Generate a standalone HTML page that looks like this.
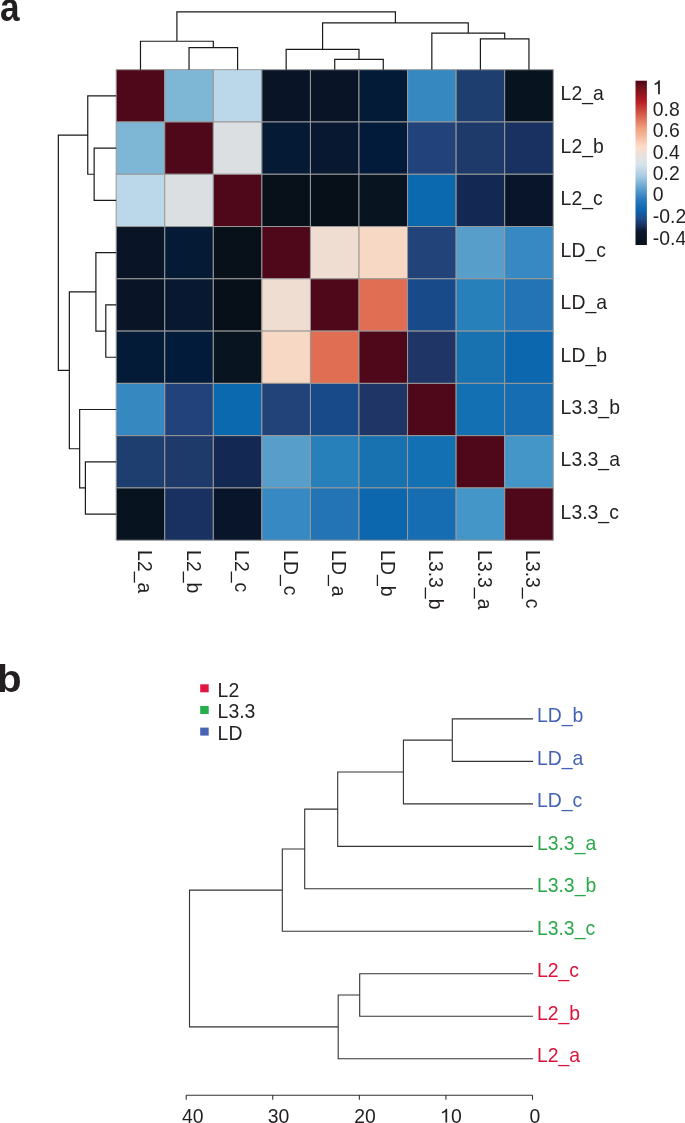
<!DOCTYPE html>
<html><head><meta charset="utf-8"><style>
html,body{margin:0;padding:0;background:#fff;}
body{width:685px;height:1123px;overflow:hidden;position:relative;}
svg{position:absolute;left:0;top:0;display:block;will-change:transform;}
text{font-family:"Liberation Sans",sans-serif;}
</style></head><body>
<svg width="685" height="1123" viewBox="0 0 685 1123">
<defs><linearGradient id="cb" x1="0" y1="0" x2="0" y2="1">
<stop offset="0" stop-color="#4A0418"/>
<stop offset="0.035" stop-color="#6E1019"/>
<stop offset="0.125" stop-color="#B51C24"/>
<stop offset="0.21" stop-color="#D5604C"/>
<stop offset="0.29" stop-color="#F0A07E"/>
<stop offset="0.40" stop-color="#FDDBC7"/>
<stop offset="0.465" stop-color="#E6E2E0"/>
<stop offset="0.515" stop-color="#D3E2EC"/>
<stop offset="0.58" stop-color="#A8CCE2"/>
<stop offset="0.66" stop-color="#5A9FCC"/>
<stop offset="0.72" stop-color="#2B7BBE"/>
<stop offset="0.79" stop-color="#0B64AE"/>
<stop offset="0.84" stop-color="#1F4A8A"/>
<stop offset="0.875" stop-color="#1C3468"/>
<stop offset="0.912" stop-color="#0C1A33"/>
<stop offset="0.945" stop-color="#0A1424"/>
<stop offset="1" stop-color="#0A121E"/>
</linearGradient></defs>

<text transform="translate(0.07,21.2) scale(0.88,1)" font-size="40" font-weight="bold" fill="#231f20">a</text>
<text transform="translate(-3.19,691.8) scale(1.06,1)" font-size="38.5" font-weight="bold" fill="#231f20">b</text>
<g stroke="#999" stroke-width="1">
<rect x="116.20" y="69.70" width="48.56" height="52.28" fill="#4F0819"/>
<rect x="164.76" y="69.70" width="48.56" height="52.28" fill="#7EB6D6"/>
<rect x="213.32" y="69.70" width="48.56" height="52.28" fill="#BBD8EA"/>
<rect x="261.88" y="69.70" width="48.56" height="52.28" fill="#091526"/>
<rect x="310.44" y="69.70" width="48.56" height="52.28" fill="#091526"/>
<rect x="359.00" y="69.70" width="48.56" height="52.28" fill="#041B37"/>
<rect x="407.56" y="69.70" width="48.56" height="52.28" fill="#3689C0"/>
<rect x="456.12" y="69.70" width="48.56" height="52.28" fill="#1F3E70"/>
<rect x="504.68" y="69.70" width="48.56" height="52.28" fill="#081320"/>
<rect x="116.20" y="121.98" width="48.56" height="52.28" fill="#7EB6D6"/>
<rect x="164.76" y="121.98" width="48.56" height="52.28" fill="#4F0819"/>
<rect x="213.32" y="121.98" width="48.56" height="52.28" fill="#DBDFE2"/>
<rect x="261.88" y="121.98" width="48.56" height="52.28" fill="#051A35"/>
<rect x="310.44" y="121.98" width="48.56" height="52.28" fill="#081830"/>
<rect x="359.00" y="121.98" width="48.56" height="52.28" fill="#031B3A"/>
<rect x="407.56" y="121.98" width="48.56" height="52.28" fill="#21427A"/>
<rect x="456.12" y="121.98" width="48.56" height="52.28" fill="#1E3A6A"/>
<rect x="504.68" y="121.98" width="48.56" height="52.28" fill="#183160"/>
<rect x="116.20" y="174.26" width="48.56" height="52.28" fill="#BBD8EA"/>
<rect x="164.76" y="174.26" width="48.56" height="52.28" fill="#DBDFE2"/>
<rect x="213.32" y="174.26" width="48.56" height="52.28" fill="#4F0819"/>
<rect x="261.88" y="174.26" width="48.56" height="52.28" fill="#08101A"/>
<rect x="310.44" y="174.26" width="48.56" height="52.28" fill="#070F18"/>
<rect x="359.00" y="174.26" width="48.56" height="52.28" fill="#08141F"/>
<rect x="407.56" y="174.26" width="48.56" height="52.28" fill="#0B69AF"/>
<rect x="456.12" y="174.26" width="48.56" height="52.28" fill="#132853"/>
<rect x="504.68" y="174.26" width="48.56" height="52.28" fill="#09152A"/>
<rect x="116.20" y="226.54" width="48.56" height="52.28" fill="#091526"/>
<rect x="164.76" y="226.54" width="48.56" height="52.28" fill="#051A35"/>
<rect x="213.32" y="226.54" width="48.56" height="52.28" fill="#08101A"/>
<rect x="261.88" y="226.54" width="48.56" height="52.28" fill="#4F0819"/>
<rect x="310.44" y="226.54" width="48.56" height="52.28" fill="#F0DDD2"/>
<rect x="359.00" y="226.54" width="48.56" height="52.28" fill="#F6D8C5"/>
<rect x="407.56" y="226.54" width="48.56" height="52.28" fill="#22427A"/>
<rect x="456.12" y="226.54" width="48.56" height="52.28" fill="#579FCA"/>
<rect x="504.68" y="226.54" width="48.56" height="52.28" fill="#3689C2"/>
<rect x="116.20" y="278.82" width="48.56" height="52.28" fill="#091526"/>
<rect x="164.76" y="278.82" width="48.56" height="52.28" fill="#081830"/>
<rect x="213.32" y="278.82" width="48.56" height="52.28" fill="#070F18"/>
<rect x="261.88" y="278.82" width="48.56" height="52.28" fill="#F0DDD2"/>
<rect x="310.44" y="278.82" width="48.56" height="52.28" fill="#4F0819"/>
<rect x="359.00" y="278.82" width="48.56" height="52.28" fill="#E06E52"/>
<rect x="407.56" y="278.82" width="48.56" height="52.28" fill="#184A8A"/>
<rect x="456.12" y="278.82" width="48.56" height="52.28" fill="#2880BB"/>
<rect x="504.68" y="278.82" width="48.56" height="52.28" fill="#2374B5"/>
<rect x="116.20" y="331.10" width="48.56" height="52.28" fill="#041B37"/>
<rect x="164.76" y="331.10" width="48.56" height="52.28" fill="#031B3A"/>
<rect x="213.32" y="331.10" width="48.56" height="52.28" fill="#08141F"/>
<rect x="261.88" y="331.10" width="48.56" height="52.28" fill="#F6D8C5"/>
<rect x="310.44" y="331.10" width="48.56" height="52.28" fill="#E06E52"/>
<rect x="359.00" y="331.10" width="48.56" height="52.28" fill="#4F0819"/>
<rect x="407.56" y="331.10" width="48.56" height="52.28" fill="#1F3566"/>
<rect x="456.12" y="331.10" width="48.56" height="52.28" fill="#1972B0"/>
<rect x="504.68" y="331.10" width="48.56" height="52.28" fill="#0C67AE"/>
<rect x="116.20" y="383.38" width="48.56" height="52.28" fill="#3689C0"/>
<rect x="164.76" y="383.38" width="48.56" height="52.28" fill="#21427A"/>
<rect x="213.32" y="383.38" width="48.56" height="52.28" fill="#0B69AF"/>
<rect x="261.88" y="383.38" width="48.56" height="52.28" fill="#22427A"/>
<rect x="310.44" y="383.38" width="48.56" height="52.28" fill="#184A8A"/>
<rect x="359.00" y="383.38" width="48.56" height="52.28" fill="#1F3566"/>
<rect x="407.56" y="383.38" width="48.56" height="52.28" fill="#4F0819"/>
<rect x="456.12" y="383.38" width="48.56" height="52.28" fill="#1370B2"/>
<rect x="504.68" y="383.38" width="48.56" height="52.28" fill="#176DB2"/>
<rect x="116.20" y="435.66" width="48.56" height="52.28" fill="#1F3E70"/>
<rect x="164.76" y="435.66" width="48.56" height="52.28" fill="#1E3A6A"/>
<rect x="213.32" y="435.66" width="48.56" height="52.28" fill="#132853"/>
<rect x="261.88" y="435.66" width="48.56" height="52.28" fill="#579FCA"/>
<rect x="310.44" y="435.66" width="48.56" height="52.28" fill="#2880BB"/>
<rect x="359.00" y="435.66" width="48.56" height="52.28" fill="#1972B0"/>
<rect x="407.56" y="435.66" width="48.56" height="52.28" fill="#1370B2"/>
<rect x="456.12" y="435.66" width="48.56" height="52.28" fill="#4F0819"/>
<rect x="504.68" y="435.66" width="48.56" height="52.28" fill="#4596C8"/>
<rect x="116.20" y="487.94" width="48.56" height="52.28" fill="#081320"/>
<rect x="164.76" y="487.94" width="48.56" height="52.28" fill="#183160"/>
<rect x="213.32" y="487.94" width="48.56" height="52.28" fill="#09152A"/>
<rect x="261.88" y="487.94" width="48.56" height="52.28" fill="#3689C2"/>
<rect x="310.44" y="487.94" width="48.56" height="52.28" fill="#2374B5"/>
<rect x="359.00" y="487.94" width="48.56" height="52.28" fill="#0C67AE"/>
<rect x="407.56" y="487.94" width="48.56" height="52.28" fill="#176DB2"/>
<rect x="456.12" y="487.94" width="48.56" height="52.28" fill="#4596C8"/>
<rect x="504.68" y="487.94" width="48.56" height="52.28" fill="#4F0819"/>
</g>
<path d="M189.04 69.70V47.65H237.60V69.70 M140.48 69.70V41.25H213.32V47.65 M334.72 69.70V59.30H383.28V69.70 M286.16 69.70V49.40H359.00V59.30 M480.40 69.70V38.90H528.96V69.70 M431.84 69.70V33.15H504.68V38.90 M322.58 49.40V22.85H468.26V33.15 M176.90 41.25V11.85H395.42V22.85" fill="none" stroke="#1a1a1a" stroke-width="1.2"/>
<path d="M116.20 148.12H94.15V200.40H116.20 M116.20 95.84H87.75V174.26H94.15 M116.20 304.96H105.80V357.24H116.20 M116.20 252.68H95.90V331.10H105.80 M116.20 461.80H85.40V514.08H116.20 M116.20 409.52H79.65V487.94H85.40 M95.90 291.89H69.35V448.73H79.65 M87.75 135.05H58.35V370.31H69.35" fill="none" stroke="#1a1a1a" stroke-width="1.2"/>
<text transform="translate(560.60,100.34) scale(1,1.046)" font-size="19.4" fill="#231f20">L2_a</text>
<text transform="translate(560.60,152.62) scale(1,1.046)" font-size="19.4" fill="#231f20">L2_b</text>
<text transform="translate(560.60,204.90) scale(1,1.046)" font-size="19.4" fill="#231f20">L2_c</text>
<text transform="translate(560.60,257.18) scale(1,1.046)" font-size="19.4" fill="#231f20">LD_c</text>
<text transform="translate(560.60,309.46) scale(1,1.046)" font-size="19.4" fill="#231f20">LD_a</text>
<text transform="translate(560.60,361.74) scale(1,1.046)" font-size="19.4" fill="#231f20">LD_b</text>
<text transform="translate(560.60,414.02) scale(1,1.046)" font-size="19.4" fill="#231f20">L3.3_b</text>
<text transform="translate(560.60,466.30) scale(1,1.046)" font-size="19.4" fill="#231f20">L3.3_a</text>
<text transform="translate(560.60,518.58) scale(1,1.046)" font-size="19.4" fill="#231f20">L3.3_c</text>
<text transform="translate(137.98,550.10) rotate(90) scale(1,1.046)" font-size="19.4" fill="#231f20">L2_a</text>
<text transform="translate(186.54,550.10) rotate(90) scale(1,1.046)" font-size="19.4" fill="#231f20">L2_b</text>
<text transform="translate(235.10,550.10) rotate(90) scale(1,1.046)" font-size="19.4" fill="#231f20">L2_c</text>
<text transform="translate(283.66,550.10) rotate(90) scale(1,1.046)" font-size="19.4" fill="#231f20">LD_c</text>
<text transform="translate(332.22,550.10) rotate(90) scale(1,1.046)" font-size="19.4" fill="#231f20">LD_a</text>
<text transform="translate(380.78,550.10) rotate(90) scale(1,1.046)" font-size="19.4" fill="#231f20">LD_b</text>
<text transform="translate(429.34,550.10) rotate(90) scale(1,1.046)" font-size="19.4" fill="#231f20">L3.3_b</text>
<text transform="translate(477.90,550.10) rotate(90) scale(1,1.046)" font-size="19.4" fill="#231f20">L3.3_a</text>
<text transform="translate(526.46,550.10) rotate(90) scale(1,1.046)" font-size="19.4" fill="#231f20">L3.3_c</text>
<rect x="635.5" y="80.7" width="11.4" height="164.3" fill="url(#cb)"/>
<path transform="translate(652.80,94.20) scale(0.00947,-0.00991)" d="M560 0H745V1409H620C580 1320 500 1230 400 1170C340 1135 270 1110 200 1100V930C330 960 460 1020 560 1090Z" fill="#231f20"/>
<text transform="translate(652.80,115.90) scale(1,1.046)" font-size="19.4" fill="#231f20">0.8</text>
<text transform="translate(652.80,137.20) scale(1,1.046)" font-size="19.4" fill="#231f20">0.6</text>
<text transform="translate(652.80,159.10) scale(1,1.046)" font-size="19.4" fill="#231f20">0.4</text>
<text transform="translate(652.80,180.20) scale(1,1.046)" font-size="19.4" fill="#231f20">0.2</text>
<text transform="translate(652.80,201.20) scale(1,1.046)" font-size="19.4" fill="#231f20">0</text>
<text transform="translate(652.80,223.30) scale(1,1.046)" font-size="19.4" fill="#231f20">-0.2</text>
<text transform="translate(652.80,245.20) scale(1,1.046)" font-size="19.4" fill="#231f20">-0.4</text>
<rect x="200.2" y="684.3" width="8.5" height="8" fill="#DE1640"/>
<text transform="translate(217.60,696.60) scale(1,1.046)" font-size="19.4" fill="#231f20">L2</text>
<rect x="200.2" y="706.0" width="8.5" height="8" fill="#25AE4B"/>
<text transform="translate(217.60,717.80) scale(1,1.046)" font-size="19.4" fill="#231f20">L3.3</text>
<rect x="200.2" y="727.6" width="8.5" height="8" fill="#4863B2"/>
<text transform="translate(217.60,740.00) scale(1,1.046)" font-size="19.4" fill="#231f20">LD</text>
<path d="M533.00 718.90H452.30V761.38H533.00 M452.30 740.14H403.40V803.86H533.00 M403.40 772.00H337.70V846.34H533.00 M337.70 809.17H304.70V888.82H533.00 M304.70 848.99H282.30V931.30H533.00 M533.00 973.78H359.70V1016.26H533.00 M359.70 995.02H338.20V1058.74H533.00 M282.30 890.15H189.50V1026.88H338.20" fill="none" stroke="#333" stroke-width="1.1"/>
<text transform="translate(536.90,722.35) scale(1,1.046)" font-size="19.4" fill="#4563B5">LD_b</text>
<text transform="translate(536.90,764.83) scale(1,1.046)" font-size="19.4" fill="#4563B5">LD_a</text>
<text transform="translate(536.90,807.31) scale(1,1.046)" font-size="19.4" fill="#4563B5">LD_c</text>
<text transform="translate(536.90,849.79) scale(1,1.046)" font-size="19.4" fill="#2AA84A">L3.3_a</text>
<text transform="translate(536.90,892.27) scale(1,1.046)" font-size="19.4" fill="#2AA84A">L3.3_b</text>
<text transform="translate(536.90,934.75) scale(1,1.046)" font-size="19.4" fill="#2AA84A">L3.3_c</text>
<text transform="translate(536.90,977.23) scale(1,1.046)" font-size="19.4" fill="#DC143C">L2_c</text>
<text transform="translate(536.90,1019.71) scale(1,1.046)" font-size="19.4" fill="#DC143C">L2_b</text>
<text transform="translate(536.90,1062.19) scale(1,1.046)" font-size="19.4" fill="#DC143C">L2_a</text>
<path d="M186.20 1095.3H532.50M186.20 1095.3V1099.8M272.77 1095.3V1099.8M359.35 1095.3V1099.8M445.93 1095.3V1099.8M532.50 1095.3V1099.8" fill="none" stroke="#333" stroke-width="1.1"/>
<text transform="translate(192.70,1122.60) scale(1,1.046)" font-size="19.4" fill="#231f20" text-anchor="middle">40</text>
<text transform="translate(278.50,1122.60) scale(1,1.046)" font-size="19.4" fill="#231f20" text-anchor="middle">30</text>
<text transform="translate(364.95,1122.60) scale(1,1.046)" font-size="19.4" fill="#231f20" text-anchor="middle">20</text>
<text transform="translate(534.90,1122.60) scale(1,1.046)" font-size="19.4" fill="#231f20" text-anchor="middle">0</text>
<path transform="translate(440.13,1122.60) scale(0.00947,-0.00991)" d="M560 0H745V1409H620C580 1320 500 1230 400 1170C340 1135 270 1110 200 1100V930C330 960 460 1020 560 1090Z" fill="#231f20"/>
<text transform="translate(450.92,1122.60) scale(1,1.046)" font-size="19.4" fill="#231f20">0</text>
</svg></body></html>
